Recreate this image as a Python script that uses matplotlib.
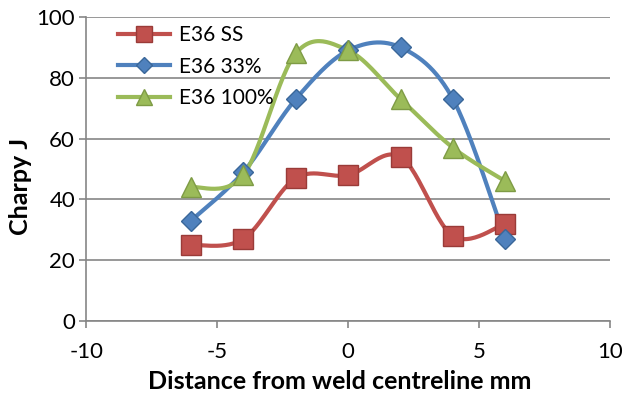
import numpy as np
import matplotlib
matplotlib.use("Agg")
import matplotlib.pyplot as plt

plt.rcParams['font.family'] = ['Lato', 'DejaVu Sans']
plt.rcParams['axes.unicode_minus'] = False

# distance from weld centreline (mm)
dist = [-6, -4, -2, 0, 2, 4, 6]

# Charpy energy (J)
e36_ss = [25, 27, 47, 48, 54, 28, 32]
e36_33 = [33, 49, 73, 89, 90, 73, 27]
e36_100 = [44, 48, 88, 89, 73, 57, 46]

labels = ['E36 SS', 'E36 33%', 'E36 100%']
colors = ['#C0504D', '#4F81BD', '#9BBB59']
edges = ['#9A3B38', '#3A6799', '#7E9B45']
markers = ['s', 'D', '^']
msizes = [14, 10, 14]


def smooth(x, y, n=30):
    # cubic bezier through the points, control points from neighbours
    x = np.asarray(x, float)
    y = np.asarray(y, float)
    pts = np.column_stack([x, y])
    out = []
    t = np.linspace(0, 1, n)[:, None]
    for i in range(len(pts) - 1):
        p0 = pts[i - 1] if i > 0 else pts[i]
        p1 = pts[i]
        p2 = pts[i + 1]
        p3 = pts[i + 2] if i + 2 < len(pts) else pts[i + 1]
        c1 = p1 + (p2 - p0) / 6
        c2 = p2 - (p3 - p1) / 6
        seg = ((1 - t) ** 3) * p1 + 3 * ((1 - t) ** 2) * t * c1 + 3 * (1 - t) * t ** 2 * c2 + t ** 3 * p2
        out.append(seg)
    out = np.vstack(out)
    return out[:, 0], out[:, 1]


fig = plt.figure(figsize=(6.29, 3.94), dpi=100)
ax = fig.add_axes([0.137, 0.185, 0.833, 0.772])

for ys, lab, c, ec, m, ms in zip([e36_ss, e36_33, e36_100], labels, colors, edges, markers, msizes):
    sx, sy = smooth(dist, ys)
    ax.plot(sx, sy, color=c, lw=3, solid_capstyle='round', zorder=3)
    ax.plot(dist, ys, ls='none', marker=m, ms=ms, color=c, mec=ec, mew=1, zorder=4)
    # legend handle
    ax.plot([], [], color=c, lw=3, marker=m, ms=ms * 0.8, mfc=c, mec=ec, label=lab)

ax.set_xlim(-10, 10)
ax.set_ylim(0, 100)
ax.set_xticks([-10, -5, 0, 5, 10])
ax.set_yticks([0, 20, 40, 60, 80, 100])
ax.yaxis.grid(True, color='#868686', lw=1.2)
ax.set_axisbelow(True)
for s in ['top', 'right']:
    ax.spines[s].set_visible(False)
for s in ['left', 'bottom']:
    ax.spines[s].set_color('#868686')
    ax.spines[s].set_linewidth(1.2)
ax.tick_params(axis='both', colors='#868686', labelcolor='black', labelsize=16, length=5, width=1.2)
ax.tick_params(axis='y', pad=3)
ax.tick_params(axis='x', pad=10)

ax.set_xlabel('Distance from weld centreline mm', fontsize=18, fontweight='bold', va='center')
ax.xaxis.set_label_coords(0.483, -0.2)
ax.set_ylabel('Charpy J', fontsize=18, fontweight='bold', va='center')
ax.yaxis.set_label_coords(-0.126, 0.444)

ax.legend(loc='upper left', bbox_to_anchor=(0.025, 1.035), frameon=False, fontsize=15,
          handlelength=2.5, handletextpad=0.45, labelspacing=0.55)

fig.savefig('out.png', dpi=100)
